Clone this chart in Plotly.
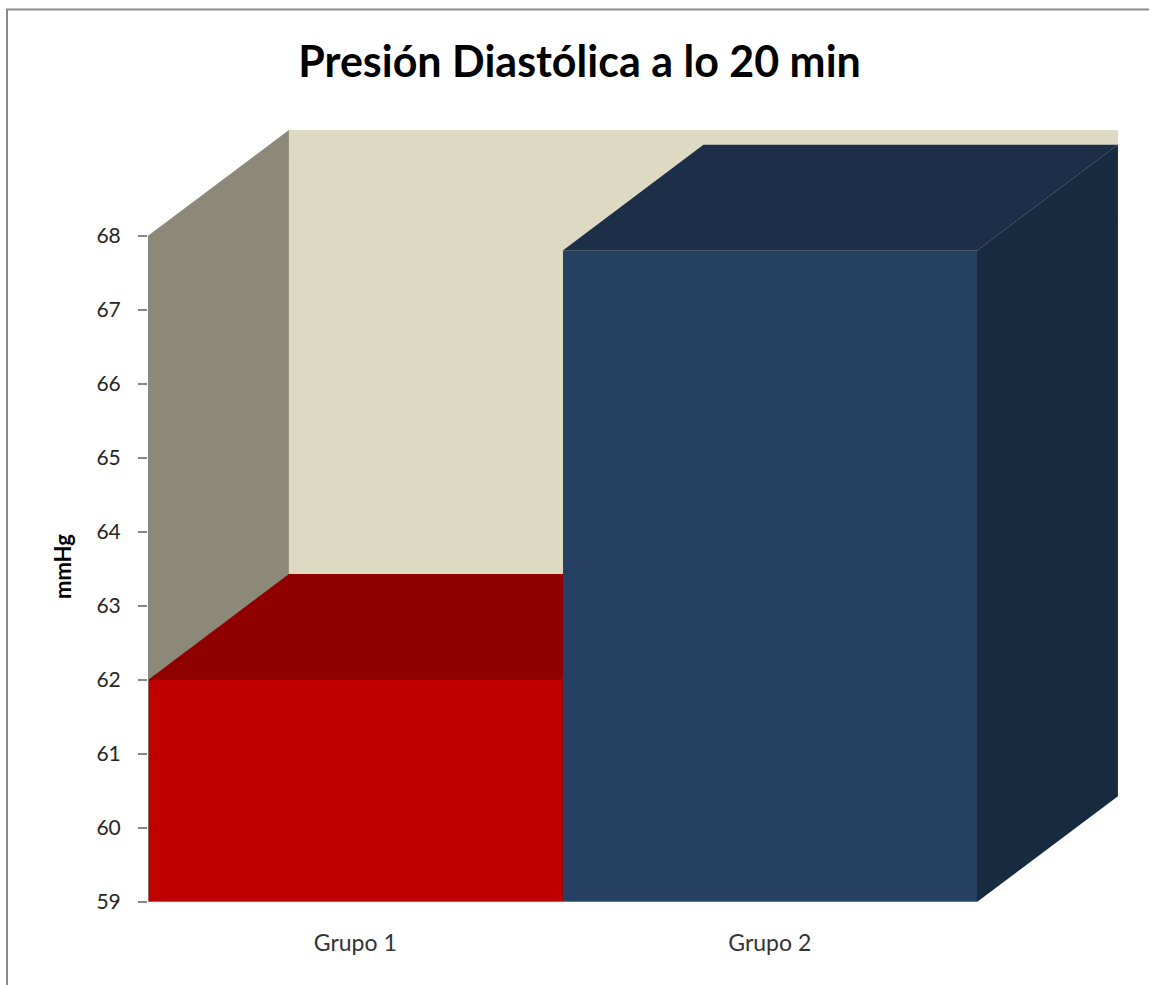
import plotly.graph_objects as go

# Data
categories = ["Grupo 1", "Grupo 2"]
values = [62.0, 67.8]
y_ticks = [59, 60, 61, 62, 63, 64, 65, 66, 67, 68]

# Styling
front_colors = ["#C00000", "#254061"]
top_colors = ["#900000", "#1D2F48"]
side_colors = ["#6E0000", "#182A3F"]
left_wall_color = "#8C8979"
back_wall_color = "#DDD9C3"
axis_color = "#868686"
font_family = "Lato, 'Open Sans', sans-serif"

# Pseudo-3D geometry (depth of the box in axis units)
Y_MIN, Y_MAX = 59, 68
DEPTH_X = 0.34
DEPTH_Y = 1.43
X_MIN = -0.5
X_FRONT_MAX = len(categories) - 0.5

W, H = 1149, 985
M_L, M_R, M_T, M_B = 148, 31, 130, 83
plot_w = W - M_L - M_R
plot_h = H - M_T - M_B
FRONT_RIGHT_PX = 977  # pixel where the front of the last category ends


def px_to_paper(px, py):
    return (px - M_L) / plot_w, (H - M_B - py) / plot_h


fig = go.Figure()


def poly(xs, ys, color, xa="x", ya="y"):
    fig.add_trace(go.Scatter(
        x=xs + [xs[0]], y=ys + [ys[0]], mode="lines", fill="toself",
        fillcolor=color, line=dict(width=0, color=color),
        hoverinfo="skip", showlegend=False, xaxis=xa, yaxis=ya))


# Walls on the base subplot
poly([X_MIN, X_MIN, X_MIN + DEPTH_X, X_MIN + DEPTH_X],
     [Y_MIN, Y_MAX, Y_MAX + DEPTH_Y, Y_MIN + DEPTH_Y], left_wall_color)
poly([X_MIN + DEPTH_X, X_FRONT_MAX + DEPTH_X, X_FRONT_MAX + DEPTH_X, X_MIN + DEPTH_X],
     [Y_MIN + DEPTH_Y, Y_MIN + DEPTH_Y, Y_MAX + DEPTH_Y, Y_MAX + DEPTH_Y], back_wall_color)

# Bars: each on its own overlaid subplot so later bars occlude earlier ones
for i, (cat, v) in enumerate(zip(categories, values)):
    xa, ya = f"x{i + 2}", f"y{i + 2}"
    l, r = i - 0.5, i + 0.5
    # side face
    poly([r, r + DEPTH_X, r + DEPTH_X, r],
         [Y_MIN, Y_MIN + DEPTH_Y, v + DEPTH_Y, v], side_colors[i], xa, ya)
    # top face
    poly([l, r, r + DEPTH_X, l + DEPTH_X],
         [v, v, v + DEPTH_Y, v + DEPTH_Y], top_colors[i], xa, ya)
    # front face
    fig.add_trace(go.Bar(
        x=[i], y=[v], width=1, name=cat,
        marker=dict(color=front_colors[i], line=dict(width=0)),
        showlegend=False, xaxis=xa, yaxis=ya))

# Value axis line and floor front edge, drawn on top
last_xa, last_ya = f"x{len(categories) + 1}", f"y{len(categories) + 1}"
fig.add_trace(go.Scatter(
    x=[X_MIN, X_MIN, X_FRONT_MAX], y=[Y_MAX, Y_MIN, Y_MIN], mode="lines",
    line=dict(color=axis_color, width=1.5), hoverinfo="skip", showlegend=False,
    cliponaxis=False, xaxis=last_xa, yaxis=last_ya))

x_range = [X_MIN, X_MIN + (X_FRONT_MAX - X_MIN) * plot_w / (FRONT_RIGHT_PX - M_L)]
y_range = [Y_MIN, Y_MAX + DEPTH_Y]

layout_axes = dict(
    xaxis=dict(range=x_range, tickvals=list(range(len(categories))), ticktext=categories,
               showgrid=False, zeroline=False, showline=False, ticks="",
               ticklabelstandoff=25,
               tickfont=dict(family=font_family, size=23, color="#333333"),
               fixedrange=True),
    yaxis=dict(range=y_range, tickvals=y_ticks, showgrid=False, zeroline=False,
               showline=False,
               ticks="outside", ticklen=9, tickwidth=1.5, tickcolor=axis_color,
               ticklabelstandoff=13,
               tickfont=dict(family=font_family, size=21, color="#262626"),
               fixedrange=True),
)
for i in range(len(categories)):
    layout_axes[f"xaxis{i + 2}"] = dict(range=x_range, overlaying="x", visible=False,
                                        fixedrange=True)
    layout_axes[f"yaxis{i + 2}"] = dict(range=y_range, overlaying="y", visible=False,
                                        fixedrange=True)

bx0, by0 = px_to_paper(7, 9.5)
title_y = 1 - 62 / H
lab_x, lab_y = px_to_paper(62, 567)

fig.update_layout(
    width=W, height=H,
    margin=dict(l=M_L, r=M_R, t=M_T, b=M_B),
    paper_bgcolor="white", plot_bgcolor="rgba(0,0,0,0)",
    title=dict(text="<b>Presión Diastólica a lo 20 min</b>",
               font=dict(family=font_family, size=43, color="black"),
               xref="container", x=579.5 / W, xanchor="center",
               yref="container", y=title_y, yanchor="middle"),
    annotations=[dict(text="<b>mmHg</b>", xref="paper", yref="paper",
                      x=lab_x, y=lab_y, xanchor="center", yanchor="middle",
                      showarrow=False, textangle=-90,
                      font=dict(family=font_family, size=22, color="black"))],
    shapes=[dict(type="rect", xref="paper", yref="paper", x0=bx0, y0=-0.3,
                 x1=1.3, y1=by0, line=dict(color="#8A8A8A", width=2))],
    bargap=0,
    **layout_axes,
)

fig.write_html("out.html")
